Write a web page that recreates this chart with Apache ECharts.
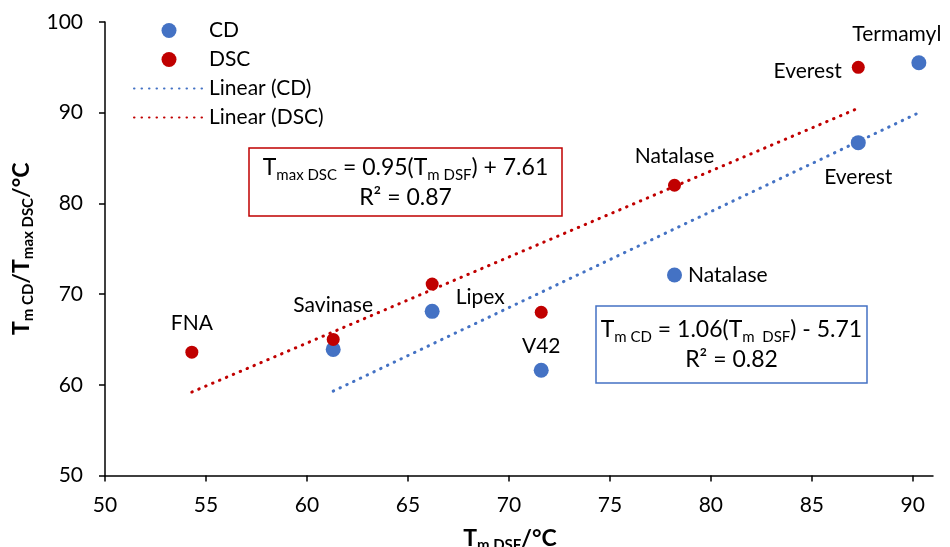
<!DOCTYPE html>
<html><head><meta charset="utf-8">
<script src="https://cdn.jsdelivr.net/npm/echarts@6/dist/echarts.min.js"></script>
<style>html,body{margin:0;padding:0;background:#fff}#c{width:950px;height:547px}</style>
</head><body><div id="c"></div>
<script>
// ---- data ----
const cdNames = ['Savinase', 'Lipex', 'V42', 'Natalase', 'Everest', 'Termamyl'];
const cdX = [61.3, 66.2, 71.6, 78.2, 87.3, 90.3];
const cdY = [63.9, 68.1, 61.6, 72.1, 86.7, 95.5];
const dscNames = ['FNA', 'Savinase', 'Lipex', 'V42', 'Natalase', 'Everest'];
const dscX = [54.3, 61.3, 66.2, 71.6, 78.2, 87.3];
const dscY = [63.6, 65.0, 71.1, 68.0, 82.0, 95.0];
const cdTrendX = [61.3, 90.3];
const cdTrendY = [59.3, 90.0];
const dscTrendX = [54.3, 87.3];
const dscTrendY = [59.2, 90.5];
const xTicks = [50, 55, 60, 65, 70, 75, 80, 85, 90];
const yTicks = [50, 60, 70, 80, 90, 100];

// ---- label placement (style, not data) ----
const FONT = 'Lato';
const cdLabelPos = {
  Lipex: {position: 'right', distance: 16, offset: [0, -14]},
  V42: {position: 'top', distance: 6},
  Natalase: {position: 'right', distance: 6},
  Everest: {position: 'bottom', distance: 17},
  Termamyl: {position: 'top', distance: 11, offset: [-22, 0]}
};
const dscLabelPos = {
  FNA: {position: 'top', distance: 12},
  Savinase: {position: 'top', distance: 17},
  Natalase: {position: 'top', distance: 12},
  Everest: {position: 'left', distance: 10, offset: [0, 4]}
};
function pts(xs, ys, names, pos) {
  return xs.map((x, i) => {
    const p = pos[names[i]];
    const item = {value: [x, ys[i]], name: names[i]};
    item.label = p ? Object.assign({show: true, formatter: names[i]}, p) : {show: false};
    return item;
  });
}
function line(xs, ys) { return xs.map((x, i) => [x, ys[i]]); }

const BLUE = '#4472C4', RED = '#C00000';
const labelStyle = {color: '#000', fontSize: 21, fontFamily: FONT};
const sub = {fontSize: 15, fontFamily: FONT, fontWeight: 'bold', verticalAlign: 'bottom', lineHeight: 15, color: '#000'};
const main = {fontSize: 23, fontFamily: FONT, fontWeight: 'bold', lineHeight: 27, color: '#000'};
const eqMain = {fontSize: 23, fontFamily: FONT, lineHeight: 30, color: '#000'};
const eqSub = {fontSize: 15, fontFamily: FONT, lineHeight: 16, verticalAlign: 'bottom', color: '#000'};

const chart = echarts.init(document.getElementById('c'));
chart.setOption({
  animation: false,
  textStyle: {fontFamily: FONT},
  grid: {left: 105, right: 17, top: 22, bottom: 71.5, containLabel: false, outerBoundsMode: 'none'},
  legend: {
    orient: 'vertical', left: 133, top: 20, padding: 0,
    itemWidth: 70, itemHeight: 15, itemGap: 8,
    textStyle: {fontSize: 21, color: '#000', fontFamily: FONT},
    data: ['CD', 'DSC',
      {name: 'Linear (CD)', itemStyle: {opacity: 0}},
      {name: 'Linear (DSC)', itemStyle: {opacity: 0}}]
  },
  xAxis: {
    type: 'value', min: 50, max: 91, interval: 5,
    name: '{b|T}{s|m DSF}{b|/°C}', nameLocation: 'middle', nameGap: 50,
    nameTextStyle: {rich: {b: main, s: sub}, padding: [0, 18, 0, 0]},
    axisLine: {show: true, onZero: false, lineStyle: {color: '#000', width: 1.5}},
    axisTick: {show: true, inside: false, length: 6, lineStyle: {color: '#000', width: 1.5}, customValues: xTicks},
    axisLabel: {fontSize: 21, color: '#000', margin: 19, customValues: xTicks},
    splitLine: {show: false}
  },
  yAxis: {
    type: 'value', min: 50, max: 100, interval: 10,
    name: '{b|T}{s|m CD}{b|/T}{s|max DSC}{b|/°C}', nameLocation: 'middle', nameGap: 68, nameRotate: 90,
    nameTextStyle: {rich: {b: main, s: sub}},
    axisLine: {show: true, onZero: false, lineStyle: {color: '#000', width: 1.5}},
    axisTick: {show: true, inside: false, length: 6, lineStyle: {color: '#000', width: 1.5}, customValues: yTicks},
    axisLabel: {fontSize: 21, color: '#000', margin: 22, customValues: yTicks},
    splitLine: {show: false}
  },
  series: [
    {name: 'CD', type: 'scatter', symbolSize: 15, itemStyle: {color: BLUE, opacity: 1}, z: 5,
     label: labelStyle, data: pts(cdX, cdY, cdNames, cdLabelPos)},
    {name: 'DSC', type: 'scatter', symbolSize: 13, itemStyle: {color: RED, opacity: 1}, z: 5,
     label: labelStyle, data: pts(dscX, dscY, dscNames, dscLabelPos)},
    {name: 'Linear (CD)', type: 'line', symbol: 'none', z: 3,
     lineStyle: {color: BLUE, width: 3, type: [0.5, 7], cap: 'round'},
     itemStyle: {color: BLUE, opacity: 0}, data: line(cdTrendX, cdTrendY)},
    {name: 'Linear (DSC)', type: 'line', symbol: 'none', z: 3,
     lineStyle: {color: RED, width: 3, type: [0.5, 7], cap: 'round'},
     itemStyle: {color: RED, opacity: 0}, data: line(dscTrendX, dscTrendY)}
  ],
  graphic: [
    {type: 'rect', shape: {x: 249, y: 148, width: 313, height: 68}, style: {fill: '#fff', stroke: RED, lineWidth: 1.5}, z: 10},
    {type: 'text', x: 405.5, y: 183, z: 11, style: {
      text: '{n|T}{s|max DSC}{n| = 0.95(T}{s|m DSF}{n|) + 7.61}\n{n|R² = 0.87}',
      rich: {n: eqMain, s: eqSub}, align: 'center', verticalAlign: 'middle', fill: '#000'}},
    {type: 'rect', shape: {x: 596, y: 306, width: 271, height: 77}, style: {fill: '#fff', stroke: BLUE, lineWidth: 1.5}, z: 10},
    {type: 'text', x: 731.5, y: 345, z: 11, style: {
      text: '{n|T}{s|m CD}{n| = 1.06(T}{s|m  DSF}{n|) - 5.71}\n{n|R² = 0.82}',
      rich: {n: eqMain, s: eqSub}, align: 'center', verticalAlign: 'middle', fill: '#000'}}
  ]
});
</script></body></html>
